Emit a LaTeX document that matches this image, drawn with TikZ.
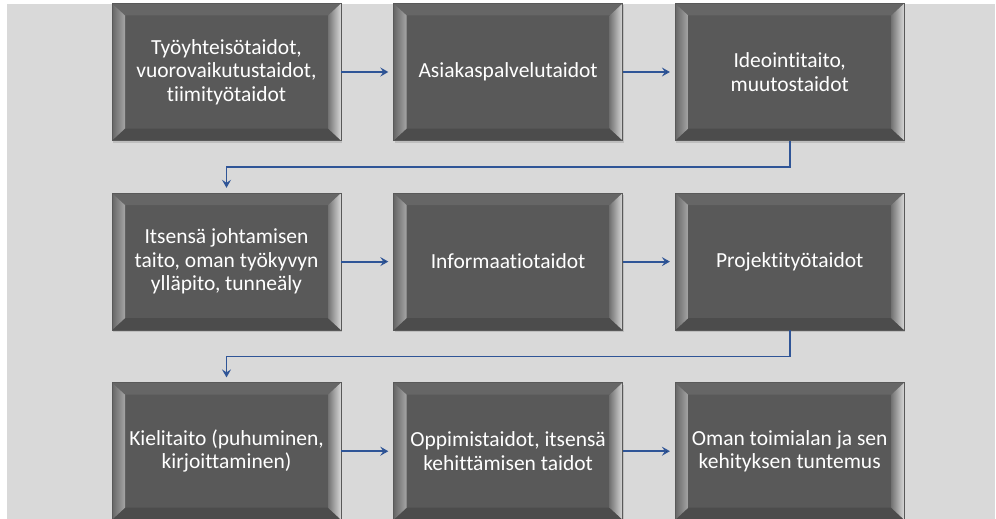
\documentclass[tikz,border=0pt]{standalone}
\usepackage{fontspec}
\setmainfont{Carlito}[Ligatures=NoCommon]
\usetikzlibrary{positioning,arrows.meta,calc,shadows}
\definecolor{boxface}{HTML}{595959}
\definecolor{linkblue}{HTML}{2F5597}
\definecolor{panel}{HTML}{D9D9D9}
\tikzset{>={Stealth[length=8pt,width=9pt,inset=3pt]}}
\tikzset{
  skill/.style={rectangle, minimum width=229pt, minimum height=137pt, inner sep=0pt,
    fill=boxface, draw=black!65, line width=0.6pt,
    text=white, align=center, font=\fontsize{21.5}{23.5}\selectfont,
    drop shadow={shadow xshift=1pt, shadow yshift=-2pt, opacity=0.3},
    path picture={
      \coordinate (nw) at (path picture bounding box.north west);
      \coordinate (ne) at (path picture bounding box.north east);
      \coordinate (sw) at (path picture bounding box.south west);
      \coordinate (se) at (path picture bounding box.south east);
      \fill[black!60] (nw) -- (ne) -- ($(ne)+(-13pt,-12pt)$) -- ($(nw)+(13pt,-12pt)$) -- cycle; % top
      \fill[black!70] (sw) -- (se) -- ($(se)+(-13pt,12pt)$) -- ($(sw)+(13pt,12pt)$) -- cycle; % bottom
      \shade[left color=black!60, right color=black!35] (nw) -- ($(nw)+(13pt,-12pt)$) -- ($(sw)+(13pt,12pt)$) -- (sw) -- cycle;
      \shade[left color=black!55, right color=black!15] (ne) -- ($(ne)+(-13pt,-12pt)$) -- ($(se)+(-13pt,12pt)$) -- (se) -- cycle;
    }},
  link/.style={->, draw=linkblue, line width=1.8pt, shorten >=5pt}
}

\begin{document}
\begin{tikzpicture}[x=1pt, y=-1pt, node distance=52pt]
        \useasboundingbox (0,0) rectangle (996,519);
        \fill[panel] (7,4) rectangle (995,519);

        \node[skill] (s1) at (226.5,72) {Työyhteisötaidot,\\vuorovaikutustaidot,\\tiimityötaidot};
        \node[skill] (s2) [right=of s1] {Asiakaspalvelutaidot};
        \node[skill] (s3) [right=of s2] {Ideointitaito,\\muutostaidot};
        \node[skill] (s4) [below=of s1] {Itsensä johtamisen\\taito, oman työkyvyn\\ylläpito, tunneäly};
        \node[skill] (s5) [right=of s4] {Informaatiotaidot};
        \node[skill] (s6) [right=of s5] {Projektityötaidot};
        \node[skill] (s7) [below=of s4] {Kielitaito (puhuminen,\\kirjoittaminen)};
        \node[skill] (s8) [right=of s7] {Oppimistaidot, itsensä\\kehittämisen taidot};
        \node[skill] (s9) [right=of s8] {Oman toimialan ja sen\\kehityksen tuntemus};

        \path[link]
        (s1) edge (s2)
        (s2) edge (s3)
        (s4) edge (s5)
        (s5) edge (s6)
        (s7) edge (s8)
        (s8) edge (s9);

        \draw[link] (s3.south) -- ++(0,26) -| (s4.north); % next row
        \draw[link] (s6.south) -- ++(0,26) -| (s7.north);
\end{tikzpicture}
\end{document}
